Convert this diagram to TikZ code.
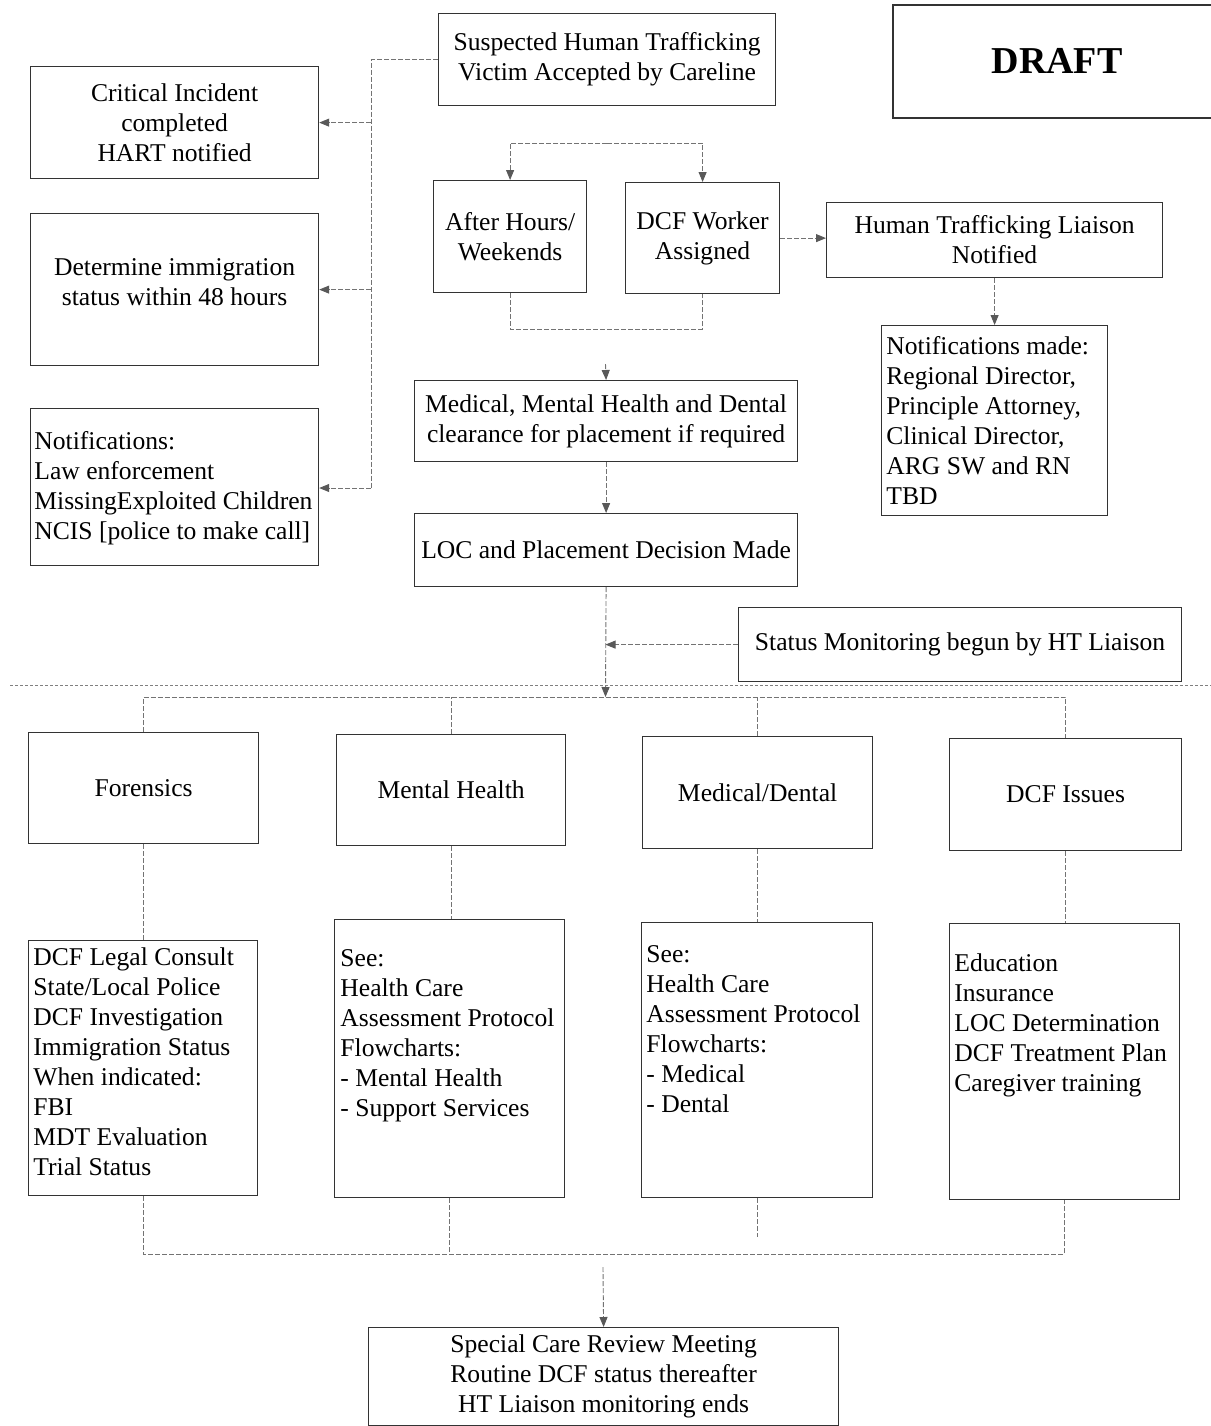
\documentclass[tikz,border=0pt]{standalone}
\usepackage{fontspec}
\setmainfont{Liberation Serif}
\usetikzlibrary{arrows.meta}
\begin{document}
\begin{tikzpicture}[x=0.5pt,y=-0.5pt,
  box/.style={draw=black!80,line width=0.6pt,rectangle,anchor=north west,inner sep=1pt,align=center,font=\fontsize{12.8}{15}\selectfont},
  txt/.style={anchor=north west,inner sep=0pt,align=left,font=\fontsize{12.8}{15}\selectfont},
  conn/.style={draw=black!55,line width=0.45pt,dash pattern=on 2.5pt off 1pt},
  arr/.style={conn,-{Triangle[length=5pt,width=4pt,color=black!65,fill=black!65]}},
  sepline/.style={draw=black!50,line width=0.4pt,dash pattern=on 1.5pt off 1pt}]
\useasboundingbox (0,0) rectangle (1211,1426);

% top area
\node[box,minimum width=168.5pt,minimum height=46pt] (susp) at (438,13) {Suspected Human Trafficking\\Victim Accepted by Careline};
\draw[box] (1213,5) -- (893,5) -- (893,118) -- (1213,118);
\node[inner sep=0pt,font=\fontsize{19}{22}\selectfont\bfseries] (draft) at (1057,61) {DRAFT};

\node[box,minimum width=144pt,minimum height=56pt] (crit) at (30,66) {Critical Incident\\completed\\HART notified};
\node[box,minimum width=144pt,minimum height=76pt,text depth=8pt] (immig) at (30,213) {Determine immigration\\status within 48 hours};
\node[box,minimum width=144pt,minimum height=78.5pt] (notifL) at (30,408) {};
\node[txt] (notifLt) at (34,431) {Notifications:\\Law enforcement\\MissingExploited Children\\NCIS [police to make call]};

\node[box,minimum width=76.5pt,minimum height=56pt] (after) at (433,180) {After Hours/\\Weekends};
\node[box,minimum width=77pt,minimum height=55.5pt] (dcfw) at (625,182) {DCF Worker\\Assigned};
\node[box,minimum width=168pt,minimum height=37.5pt] (htl) at (826,202) {Human Trafficking Liaison\\Notified};
\node[box,minimum width=113pt,minimum height=95pt] (notifR) at (881,325) {};
\node[txt] (notifRt) at (886,336) {Notifications made:\\Regional Director,\\Principle Attorney,\\Clinical Director,\\ARG SW and RN\\TBD};

\node[box,minimum width=191.5pt,minimum height=40.5pt] (medc) at (414,380) {Medical, Mental Health and Dental\\clearance for placement if required};
\node[box,minimum width=191.5pt,minimum height=36.5pt] (loc) at (414,513) {LOC and Placement Decision Made};
\node[box,minimum width=221.5pt,minimum height=37pt] (status) at (738,607) {Status Monitoring begun by HT Liaison};

% lower area
\node[box,minimum width=115pt,minimum height=55.5pt] (for) at (28,732) {Forensics};
\node[box,minimum width=114.5pt,minimum height=55.5pt] (mh) at (336,734) {Mental Health};
\node[box,minimum width=115pt,minimum height=56pt] (md) at (642,736) {Medical/Dental};
\node[box,minimum width=116pt,minimum height=56pt] (dcfi) at (949,738) {DCF Issues};

\node[box,minimum width=114.5pt,minimum height=127.5pt] (forD) at (28,940) {};
\node[txt] (forDt) at (33,947) {DCF Legal Consult\\State/Local Police\\DCF Investigation\\Immigration Status\\When indicated:\\FBI\\MDT Evaluation\\Trial Status};
\node[box,minimum width=115pt,minimum height=139pt] (mhD) at (334,919) {};
\node[txt] (mhDt) at (340,949) {See:\\Health Care\\Assessment Protocol\\Flowcharts:\\- Mental Health\\- Support Services};
\node[box,minimum width=115.5pt,minimum height=137.5pt] (mdD) at (641,922) {};
\node[txt] (mdDt) at (646,945) {See:\\Health Care\\Assessment Protocol\\Flowcharts:\\- Medical\\- Dental};
\node[box,minimum width=115pt,minimum height=138pt] (dcfD) at (949,923) {};
\node[txt] (dcfDt) at (954,953) {Education\\Insurance\\LOC Determination\\DCF Treatment Plan\\Caregiver training};

\node[box,minimum width=235pt,minimum height=49pt] (scr) at (368,1327) {Special Care Review Meeting\\Routine DCF status thereafter\\HT Liaison monitoring ends};

% coordinates
\coordinate (bl) at (371,488);
\coordinate (sp) at (607,143);
\coordinate (mg) at (606,329);
\coordinate (mstub) at (605.5,364);
\coordinate (hb) at (605.5,697);
\coordinate (bm) at (603,1254);
\coordinate (mdend) at (757,1237);
\coordinate (bs) at (603,1267);
\coordinate (sepL) at (10,685);
\coordinate (sepR) at (1211,685);

% connectors
\draw[conn] (susp.west) -| (bl);
\draw[arr] (bl |- crit.east) -- (crit.east);
\draw[arr] (bl |- immig.east) -- (immig.east);
\draw[arr] (bl) -- (notifL.east |- bl);

\draw[arr] (sp) -| (after.north);
\draw[arr] (sp) -| (dcfw.north);
\draw[arr] (dcfw.east) -- (dcfw.east -| htl.west);
\draw[arr] (htl.south) -- (notifR.north);

\draw[conn] (after.south) -- (after.south |- mg) -- (dcfw.south |- mg) -- (dcfw.south);
\draw[arr] (mstub) -- (medc.north);
\draw[arr] (medc.south) -- (loc.north);
\draw[arr] (loc.south) -- (hb);
\draw[arr] (status.west) -- (status.west -| hb);

\draw[sepline] (sepL) -- (sepR);

\draw[conn] (for.north) -- (for.north |- hb) -- (dcfi.north |- hb) -- (dcfi.north);
\draw[conn] (mh.north) -- (mh.north |- hb);
\draw[conn] (md.north) -- (md.north |- hb);

\draw[conn] (for.south) -- (for.south |- forD.north);
\draw[conn] (mh.south) -- (mh.south |- mhD.north);
\draw[conn] (md.south) -- (md.south |- mdD.north);
\draw[conn] (dcfi.south) -- (dcfi.south |- dcfD.north);

\draw[conn] (forD.south) -- (forD.south |- bm) -- (dcfD.south |- bm) -- (dcfD.south);
\draw[conn] (mhD.south) -- (mhD.south |- bm);
\draw[conn] (mdD.south) -- (mdD.south |- mdend);
\draw[arr] (bs) -- (scr.north);
\end{tikzpicture}
\end{document}
